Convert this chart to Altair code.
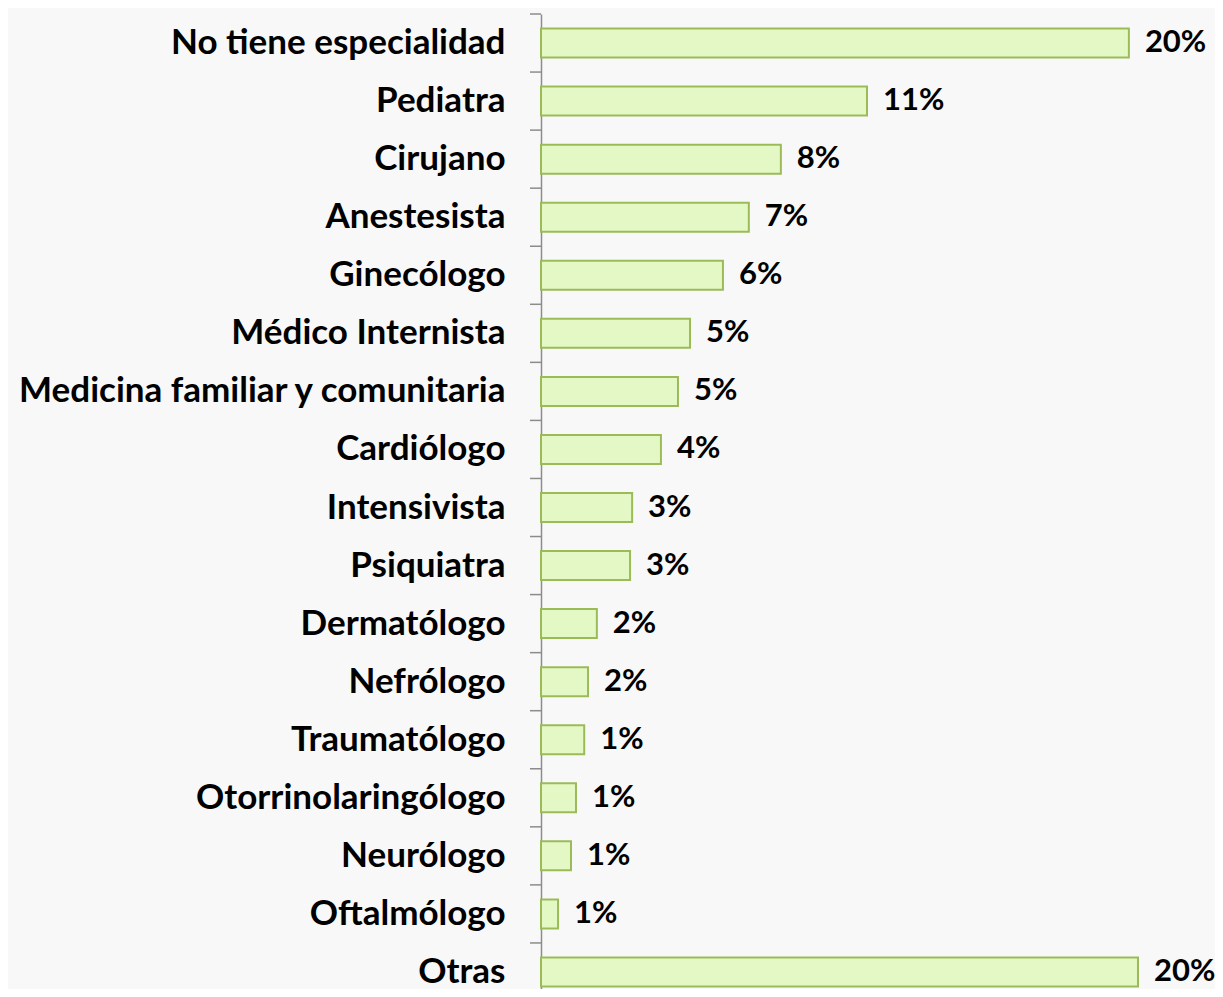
import altair as alt
import pandas as pd

categories = [
    "No tiene especialidad", "Pediatra", "Cirujano", "Anestesista", "Ginecólogo",
    "Médico Internista", "Medicina familiar y comunitaria", "Cardiólogo",
    "Intensivista", "Psiquiatra", "Dermatólogo", "Nefrólogo", "Traumatólogo",
    "Otorrinolaringólogo", "Neurólogo", "Oftalmólogo", "Otras",
]
values = [20.0, 11.09, 8.16, 7.07, 6.19, 5.07, 4.66, 4.08, 3.10, 3.03,
          1.90, 1.60, 1.47, 1.19, 1.02, 0.58, 20.31]
labels = ["20%", "11%", "8%", "7%", "6%", "5%", "5%", "4%", "3%", "3%",
          "2%", "2%", "1%", "1%", "1%", "1%", "20%"]

df = pd.DataFrame({"cat": categories, "val": values, "lab": labels})

W, H = 674, 975
FONT = "Lato"

yscale = alt.Scale(domain=categories, range=[0, 987], paddingInner=0, paddingOuter=0)
xscale = alt.Scale(domain=[0, 22.93], nice=False)

ticks = alt.Chart(df).mark_rule(color="#8c8c8c", strokeWidth=1.5).encode(
    y=alt.Y("cat:N", scale=yscale, bandPosition=0),
    x=alt.value(-11), x2=alt.value(0),
)

bars = alt.Chart(df).mark_bar(
    size=29, fill="#e4f8c6", stroke="#9bbb59", strokeWidth=2,
).encode(
    y=alt.Y("cat:N", scale=yscale,
            axis=alt.Axis(title=None, ticks=False, labelPadding=36,
                          labelFont=FONT, labelFontSize=35, labelFontWeight="bold",
                          labelColor="#000000", domain=True, domainColor="#8c8c8c",
                          domainWidth=1.5, grid=False, labelLimit=600)),
    x=alt.X("val:Q", scale=xscale, axis=None),
)

text = alt.Chart(df).mark_text(
    align="left", baseline="middle", dx=16, font=FONT, fontSize=31,
    fontWeight="bold", color="#000000",
).encode(
    y=alt.Y("cat:N", scale=yscale),
    x=alt.X("val:Q", scale=xscale),
    text="lab:N",
)

chart = alt.layer(bars, ticks, text).properties(
    width=W, height=H, background="#f8f8f8",
    padding={"left": 533, "top": 6, "right": 0, "bottom": 0},
    autosize=alt.AutoSizeParams(type="none"),
).configure_view(strokeWidth=0)

chart.save("out.html", embed_options={"renderer": "svg", "actions": False})
